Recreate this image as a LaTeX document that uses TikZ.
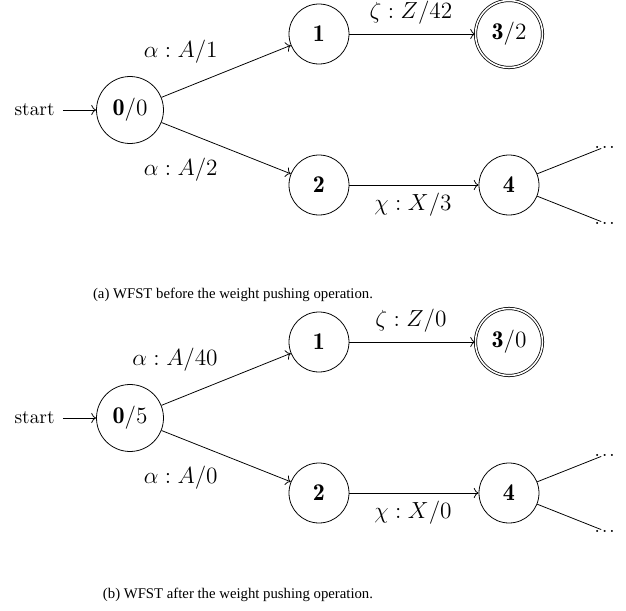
\documentclass[tikz,border=0pt]{standalone}
\usepackage{fontspec}
\newfontfamily\capfont{Liberation Serif}
\usetikzlibrary{arrows.meta}
\newcommand\mydots{.\kern0.8pt.\kern0.8pt.}
\begin{document}
\begin{tikzpicture}[x=0.515pt,y=-0.515pt,
  st/.style={circle,draw,minimum size=30.9pt,inner sep=0pt,font=\fontsize{12.4}{14}\selectfont},
  bigst/.style={minimum size=34.5pt},
  acc/.style={double,double distance=0.8pt},
  lab/.style={inner sep=0pt,font=\fontsize{12.4}{14}\selectfont},
  labr/.style={lab,anchor=east},
  starttxt/.style={inner xsep=4.1pt,inner ysep=0pt,font=\fontsize{10}{12}\selectfont},
  dotsnode/.style={inner xsep=5.2pt,inner ysep=0pt,font=\fontsize{11}{13}\selectfont},
  captxt/.style={inner sep=0pt,font=\capfont\fontsize{7.6}{9}\selectfont},
  arr/.style={->}
]
\useasboundingbox (0,0) rectangle (626,611);
% ---------- (a)
\node[st,bigst] (a0) at (130,110) {$\mathbf{0}/0$};
\node[st] (a1) at (319,34) {$\mathbf{1}$};
\node[st] (a2) at (319,185) {$\mathbf{2}$};
\node[st,bigst,acc] (a3) at (509,34) {$\mathbf{3}/2$};
\node[st] (a4) at (509,185) {$\mathbf{4}$};
\node[starttxt,anchor=east] (as) at (63,110) {start};
\node[dotsnode,anchor=west] (ad1) at (584,147) {\mydots};
\node[dotsnode,anchor=west] (ad2) at (584,223) {\mydots};
\draw[arr] (as) -- (a0);
\draw[arr] (a0) -- (a1);
\draw[arr] (a0) -- (a2);
\draw[arr] (a1) -- (a3);
\draw[arr] (a2) -- (a4);
\draw (a4) -- (ad1);
\draw (a4) -- (ad2);
\node[labr] (al01) at (218,52) {$\alpha : A/1$};
\node[labr] (al02) at (218,170) {$\alpha : A/2$};
\node[lab] (al13) at (411,13) {$\zeta : Z/42$};
\node[lab] (al24) at (413,205) {$\chi : X/3$};
\node[captxt] (capa) at (233,295) {(a) WFST before the weight pushing operation.};
% ---------- (b)
\begin{scope}[shift={(0,308)}]
\node[st,bigst] (b0) at (130,110) {$\mathbf{0}/5$};
\node[st] (b1) at (319,34) {$\mathbf{1}$};
\node[st] (b2) at (319,185) {$\mathbf{2}$};
\node[st,bigst,acc] (b3) at (509,34) {$\mathbf{3}/0$};
\node[st] (b4) at (509,185) {$\mathbf{4}$};
\node[starttxt,anchor=east] (bs) at (63,110) {start};
\node[dotsnode,anchor=west] (bd1) at (584,147) {\mydots};
\node[dotsnode,anchor=west] (bd2) at (584,223) {\mydots};
\draw[arr] (bs) -- (b0);
\draw[arr] (b0) -- (b1);
\draw[arr] (b0) -- (b2);
\draw[arr] (b1) -- (b3);
\draw[arr] (b2) -- (b4);
\draw (b4) -- (bd1);
\draw (b4) -- (bd2);
\node[labr] (bl01) at (218,52) {$\alpha : A/40$};
\node[labr] (bl02) at (218,170) {$\alpha : A/0$};
\node[lab] (bl13) at (411,13) {$\zeta : Z/0$};
\node[lab] (bl24) at (413,205) {$\chi : X/0$};
\end{scope}
\node[captxt] (capb) at (238,595) {(b) WFST after the weight pushing operation.};
\end{tikzpicture}
\end{document}
